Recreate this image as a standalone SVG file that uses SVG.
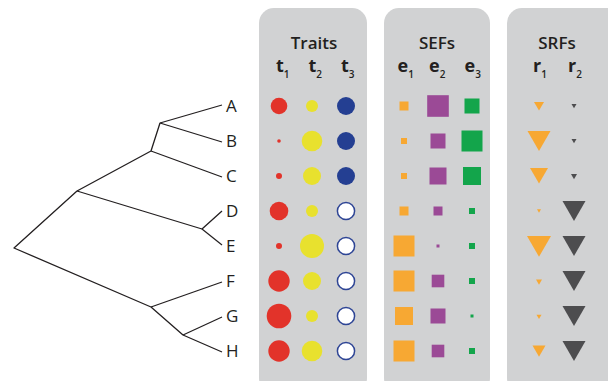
<svg xmlns="http://www.w3.org/2000/svg" width="608" height="381" viewBox="0 0 608 381">
<defs>
<style>
.panel{fill:#d1d2d3}
.title{font-family:"Open Sans","Liberation Sans",sans-serif;font-weight:600;font-size:17px;fill:#231f20;text-anchor:middle}
.hdr{font-family:"Open Sans","Liberation Sans",sans-serif;font-weight:700;font-size:18px;fill:#231f20}
.sub{font-size:10px;font-weight:600}
.lbl{font-family:"Open Sans","Liberation Sans",sans-serif;font-size:17px;fill:#231f20}
.edge{stroke:#231f20;stroke-width:1.3;fill:none;stroke-linejoin:round}
.red{fill:#e2332a}
.yel{fill:#e8e12e}
.blu{fill:#243f92}
.hol{fill:#ffffff;stroke:#2e4595;stroke-width:1.5}
.org{fill:#f7a833}
.pur{fill:#9b4a96}
.grn{fill:#13a54b}
.dk{fill:#4d4d4f}
</style>
</defs>
<rect width="608" height="381" fill="#ffffff"/>
<g id="connectors">
<polyline class="edge" points="222,105 160,123 151,151 77,191 14,248 151,307 183,335 222,352"/>
<polyline class="edge" points="160,123 222,142"/>
<polyline class="edge" points="151,151 222,177"/>
<polyline class="edge" points="77,191 202,229 222,211"/>
<polyline class="edge" points="202,229 222,245"/>
<polyline class="edge" points="151,307 222,282"/>
<polyline class="edge" points="183,335 222,317"/>
</g>
<g id="tips">
<text class="lbl" x="226" y="112">A</text>
<text class="lbl" x="226" y="147">B</text>
<text class="lbl" x="226" y="182">C</text>
<text class="lbl" x="226" y="217">D</text>
<text class="lbl" x="226" y="252">E</text>
<text class="lbl" x="226" y="287">F</text>
<text class="lbl" x="226" y="322">G</text>
<text class="lbl" x="226" y="357">H</text>
</g>
<g id="traits">
<rect class="panel" x="259" y="8" width="108" height="385" rx="15"/>
<text class="title" x="314" y="49">Traits</text>
<text class="hdr" x="276" y="72">t<tspan class="sub" dy="6">1</tspan></text>
<text class="hdr" x="308.5" y="72">t<tspan class="sub" dy="6">2</tspan></text>
<text class="hdr" x="341" y="72">t<tspan class="sub" dy="6">3</tspan></text>
<circle class="red" cx="279" cy="106" r="8.3"/>
<circle class="yel" cx="312" cy="106" r="6"/>
<circle class="blu" cx="346" cy="106" r="9"/>
<circle class="red" cx="279" cy="141" r="1.8"/>
<circle class="yel" cx="312" cy="141" r="10.3"/>
<circle class="blu" cx="346" cy="141" r="9"/>
<circle class="red" cx="279" cy="176" r="3"/>
<circle class="yel" cx="312" cy="176" r="9"/>
<circle class="blu" cx="346" cy="176" r="9"/>
<circle class="red" cx="279" cy="211" r="9.3"/>
<circle class="yel" cx="312" cy="211" r="6"/>
<circle class="hol" cx="346" cy="211" r="8.6"/>
<circle class="red" cx="279" cy="246" r="3"/>
<circle class="yel" cx="312" cy="246" r="12"/>
<circle class="hol" cx="346" cy="246" r="8.6"/>
<circle class="red" cx="279" cy="281" r="10.7"/>
<circle class="yel" cx="312" cy="281" r="9"/>
<circle class="hol" cx="346" cy="281" r="8.6"/>
<circle class="red" cx="279" cy="316" r="12.3"/>
<circle class="yel" cx="312" cy="316" r="6"/>
<circle class="hol" cx="346" cy="316" r="8.6"/>
<circle class="red" cx="279" cy="351" r="10.7"/>
<circle class="yel" cx="312" cy="351" r="10.3"/>
<circle class="hol" cx="346" cy="351" r="8.6"/>
</g>
<g id="sefs">
<rect class="panel" x="384" y="8" width="106" height="385" rx="15"/>
<text class="title" x="437" y="49">SEFs</text>
<text class="hdr" x="397.5" y="72">e<tspan class="sub" dy="6">1</tspan></text>
<text class="hdr" x="429" y="72">e<tspan class="sub" dy="6">2</tspan></text>
<text class="hdr" x="464.5" y="72">e<tspan class="sub" dy="6">3</tspan></text>
<rect class="org" x="399.5" y="101.5" width="9" height="9"/>
<rect class="pur" x="427.2" y="95.2" width="21.6" height="21.6"/>
<rect class="grn" x="464.5" y="98.5" width="15" height="15"/>
<rect class="org" x="401" y="138" width="6" height="6"/>
<rect class="pur" x="430.5" y="133.5" width="15" height="15"/>
<rect class="grn" x="461.5" y="130.5" width="21" height="21"/>
<rect class="org" x="401" y="173" width="6" height="6"/>
<rect class="pur" x="429.5" y="167.5" width="17" height="17"/>
<rect class="grn" x="463" y="167" width="18" height="18"/>
<rect class="org" x="399.5" y="206.5" width="9" height="9"/>
<rect class="pur" x="433.5" y="206.5" width="9" height="9"/>
<rect class="grn" x="469" y="208" width="6" height="6"/>
<rect class="org" x="393.5" y="235.5" width="21" height="21"/>
<rect class="pur" x="436.5" y="244.5" width="3" height="3"/>
<rect class="grn" x="469" y="243" width="6" height="6"/>
<rect class="org" x="393.5" y="270.5" width="21" height="21"/>
<rect class="pur" x="431.7" y="274.7" width="12.6" height="12.6"/>
<rect class="grn" x="469" y="278" width="6" height="6"/>
<rect class="org" x="395" y="307" width="18" height="18"/>
<rect class="pur" x="430.5" y="308.5" width="15" height="15"/>
<rect class="grn" x="470.5" y="314.5" width="3" height="3"/>
<rect class="org" x="393.5" y="340.5" width="21" height="21"/>
<rect class="pur" x="431.7" y="344.7" width="12.6" height="12.6"/>
<rect class="grn" x="469" y="348" width="6" height="6"/>
</g>
<g id="srfs">
<rect class="panel" x="507" y="8" width="120" height="385" rx="15"/>
<text class="title" x="557" y="49">SRFs</text>
<text class="hdr" x="533" y="72">r<tspan class="sub" dy="6">1</tspan></text>
<text class="hdr" x="568" y="72">r<tspan class="sub" dy="6">2</tspan></text>
<polygon class="org" points="534,102 544,102 539,110.5"/>
<polygon class="dk" points="571.5,104 576.5,104 574,108.3"/>
<polygon class="org" points="527.5,131 550.5,131 539,151"/>
<polygon class="dk" points="571.5,139 576.5,139 574,143.3"/>
<polygon class="org" points="530,168 548,168 539,183.6"/>
<polygon class="dk" points="571,174 577,174 574,179.2"/>
<polygon class="org" points="537,209.3 541,209.3 539,212.8"/>
<polygon class="dk" points="562.5,201 585.5,201 574,221"/>
<polygon class="org" points="527,236 551,236 539,256.8"/>
<polygon class="dk" points="562.5,236 585.5,236 574,256"/>
<polygon class="org" points="536,279.5 542,279.5 539,284.7"/>
<polygon class="dk" points="562.5,271 585.5,271 574,291"/>
<polygon class="org" points="536.5,314.8 541.5,314.8 539,319.1"/>
<polygon class="dk" points="562.5,306 585.5,306 574,326"/>
<polygon class="org" points="532.5,345.5 545.5,345.5 539,356.8"/>
<polygon class="dk" points="562.5,341 585.5,341 574,361"/>
</g>
</svg>
